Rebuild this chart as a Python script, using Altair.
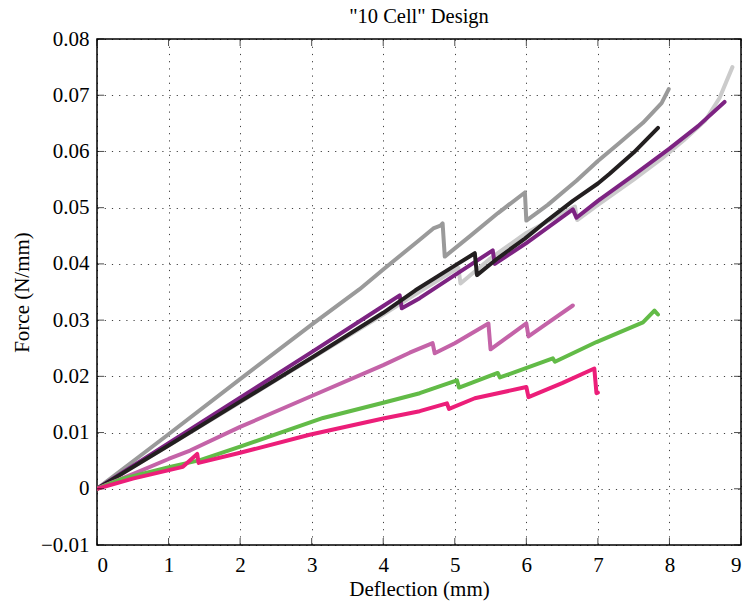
import altair as alt
import pandas as pd

# ---- data ----
gray_x = [0, 1, 2, 3, 3.67, 4.0, 4.51, 4.70, 4.80, 4.83, 4.86, 5.2, 5.6, 5.98, 6.0, 6.3, 6.7, 7.0, 7.3, 7.63, 7.89, 7.99]
gray_y = [0, 0.0097, 0.0195, 0.0292, 0.0355, 0.039, 0.0443, 0.0463, 0.0468, 0.0472, 0.0413, 0.0448, 0.049, 0.0527, 0.0477, 0.0505, 0.0548, 0.0583, 0.0615, 0.0651, 0.0686, 0.0711]

lgray_x = [0, 1, 2, 3, 4, 4.5, 5.05, 5.08, 5.5, 6.0, 6.68, 6.71, 7.0, 7.5, 7.9, 8.2, 8.5, 8.7, 8.88]
lgray_y = [0, 0.0077, 0.0154, 0.0232, 0.031, 0.035, 0.0393, 0.0365, 0.041, 0.0455, 0.0502, 0.0478, 0.0505, 0.0550, 0.0588, 0.0620, 0.0655, 0.0695, 0.0750]

purple_x = [0, 1, 2, 3, 4.0, 4.23, 4.26, 4.51, 5.0, 5.53, 5.56, 6.0, 6.65, 6.70, 7.0, 7.5, 8.0, 8.4, 8.77]
purple_y = [0, 0.0081, 0.0162, 0.0243, 0.0325, 0.0344, 0.0321, 0.0339, 0.0380, 0.0424, 0.0400, 0.0437, 0.0497, 0.0482, 0.0512, 0.0558, 0.0605, 0.0645, 0.0688]

black_x = [0, 1, 2, 3, 4, 4.45, 5.0, 5.28, 5.31, 5.6, 5.98, 6.3, 6.65, 7.0, 7.16, 7.5, 7.84]
black_y = [0, 0.0077, 0.0155, 0.0233, 0.0313, 0.0353, 0.0397, 0.0419, 0.0380, 0.0410, 0.0445, 0.0478, 0.0512, 0.0543, 0.0560, 0.0598, 0.0642]

orchid_x = [0, 0.5, 1.0, 1.3, 2, 3, 4, 4.37, 4.69, 4.72, 5.0, 5.47, 5.50, 6.0, 6.03, 6.3, 6.65]
orchid_y = [0, 0.0026, 0.0053, 0.0068, 0.0110, 0.0165, 0.0220, 0.0242, 0.0259, 0.0241, 0.0259, 0.0294, 0.0248, 0.0294, 0.0271, 0.0295, 0.0326]

green_x = [0, 0.36, 1.02, 1.44, 2.0, 3.16, 4.0, 4.51, 5.03, 5.06, 5.6, 5.63, 6.37, 6.40, 6.98, 7.63, 7.79, 7.84]
green_y = [0, 0.0018, 0.0039, 0.0051, 0.0075, 0.0126, 0.0153, 0.0170, 0.0193, 0.0180, 0.0206, 0.0198, 0.0232, 0.0226, 0.0261, 0.0296, 0.0317, 0.0310]

pink_x = [0, 0.5, 1.2, 1.4, 1.42, 2.0, 2.97, 4.0, 4.51, 4.89, 4.92, 5.28, 6.0, 6.03, 6.5, 6.95, 6.98, 7.0]
pink_y = [0, 0.0018, 0.0039, 0.0062, 0.0046, 0.0064, 0.0096, 0.0125, 0.0138, 0.0152, 0.0142, 0.0161, 0.0181, 0.0163, 0.0188, 0.0214, 0.0170, 0.0171]

series = [
    ("lgray", "#cbcbcb", lgray_x, lgray_y),
    ("gray", "#9a9a9a", gray_x, gray_y),
    ("purple", "#7d2382", purple_x, purple_y),
    ("black", "#231f20", black_x, black_y),
    ("orchid", "#c463a8", orchid_x, orchid_y),
    ("green", "#62bb47", green_x, green_y),
    ("pink", "#ec1e79", pink_x, pink_y),
]

x_ticks = [0, 1, 2, 3, 4, 5, 6, 7, 8, 9]
y_ticks = [-0.01, 0, 0.01, 0.02, 0.03, 0.04, 0.05, 0.06, 0.07, 0.08]
x_min, x_max = 0, 9
y_min, y_max = -0.01, 0.08

FONT = "Liberation Serif"
xs = alt.Scale(domain=[x_min, x_max], nice=False, zero=False)
ys = alt.Scale(domain=[y_min, y_max], nice=False, zero=False)

x_axis = alt.Axis(values=x_ticks, format="d", title="Deflection (mm)", grid=True,
                  ticks=False, domain=False, labelPadding=9, titleY=44,
                  titleBaseline="middle")
y_axis = alt.Axis(values=y_ticks, format=".2~f", title="Force (N/mm)", grid=True,
                  ticks=False, domain=False, labelPadding=8, titleX=-75,
                  titleBaseline="middle", titleAngle=-90)

layers = []
for name, color, xv, yv in series:
    df = pd.DataFrame({"x": xv, "y": yv, "i": list(range(len(xv)))})
    ch = alt.Chart(df).mark_line(color=color, strokeWidth=4, strokeJoin="round",
                                 strokeCap="round", clip=True).encode(
        x=alt.X("x:Q", scale=xs, axis=x_axis),
        y=alt.Y("y:Q", scale=ys, axis=y_axis),
        order="i:Q",
    )
    layers.append(ch)

# inward tick marks on all four sides
xt = pd.DataFrame({"t": x_ticks})
yt = pd.DataFrame({"t": y_ticks})
for yd, off in ((y_min, -3.5), (y_max, 3.5)):
    layers.append(alt.Chart(xt).mark_tick(orient="vertical", size=7, thickness=1,
                                          color="black", yOffset=off).encode(
        x=alt.X("t:Q", scale=xs, axis=x_axis), y=alt.Y(datum=yd, scale=ys, axis=y_axis)))
for xd, off in ((x_min, 3.5), (x_max, -3.5)):
    layers.append(alt.Chart(yt).mark_tick(orient="horizontal", size=7, thickness=1,
                                          color="black", xOffset=off).encode(
        y=alt.Y("t:Q", scale=ys, axis=y_axis), x=alt.X(datum=xd, scale=xs, axis=x_axis)))

chart = alt.layer(*layers).properties(
    width=644, height=506,
    title=alt.TitleParams('"10 Cell" Design', font=FONT, fontSize=20.5, fontWeight="normal",
                          color="black", anchor="middle", baseline="top",
                          offset=1, frame="group"),
    autosize=alt.AutoSizeParams(type="none"),
    padding={"left": 97, "top": 39, "right": 6, "bottom": 60},
).configure(background="white").configure_view(
    stroke="black", strokeWidth=1.5
).configure_axis(
    labelFont=FONT, labelFontSize=21, labelColor="black",
    titleFont=FONT, titleFontSize=21, titleFontWeight="normal", titleColor="black",
    gridColor="black", gridDash=[1.2, 6], gridOpacity=0.75, gridWidth=1,
)

chart.save("out.html", embed_options={"renderer": "svg", "actions": False})
